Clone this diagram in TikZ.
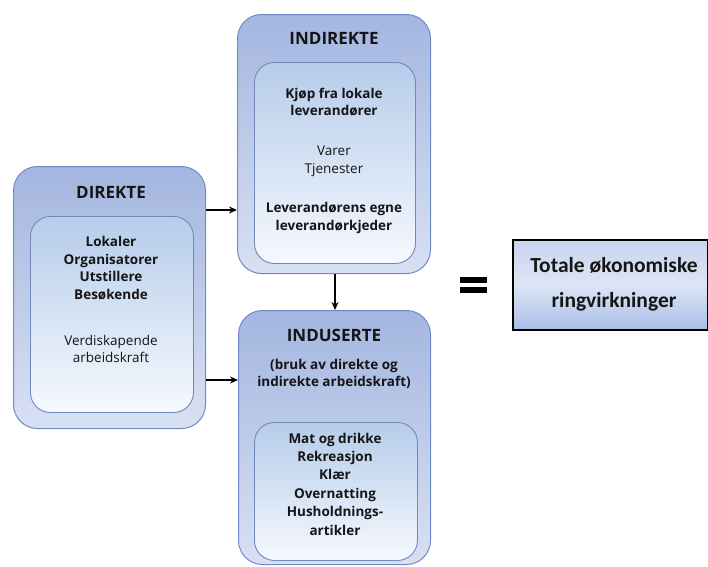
\documentclass[tikz,border=0pt]{standalone}
\usepackage{fontspec}
\setmainfont{Open Sans}
\newfontfamily\calfont{Carlito}
\usetikzlibrary{arrows.meta}
\definecolor{outtop}{HTML}{A4B6E0}
\definecolor{outbot}{HTML}{D8E0F3}
\definecolor{outline}{HTML}{6F8BC6}
\definecolor{intop}{HTML}{B6CCEA}
\definecolor{inbot}{HTML}{F6F9FE}
\definecolor{inline}{HTML}{6F89BA}
\definecolor{txt}{HTML}{151515}
\definecolor{totop}{HTML}{C9D5EE}
\definecolor{tomid}{HTML}{DCE5F5}
\definecolor{tobot}{HTML}{A9BDE6}
\tikzset{
  outerbox/.style={draw=outline, line width=1pt, rounded corners=24pt, top color=outtop, bottom color=outbot, anchor=north west, inner sep=0pt},
  innerbox/.style={draw=inline, line width=0.9pt, rounded corners=20pt, top color=intop, bottom color=inbot, anchor=north west, inner sep=0pt},
  head/.style={font=\bfseries\fontsize{17}{19}\selectfont, text=txt, align=center, inner sep=0pt},
  bodyb/.style={font=\bfseries\fontsize{13.5}{17.6}\selectfont, text=txt, align=center, inner sep=0pt},
  bodyr/.style={font=\fontsize{13.5}{17.6}\selectfont, text=txt, align=center, inner sep=0pt},
  conn/.style={-{Stealth[length=8pt,width=7pt]}, line width=1.5pt, black},
  totalbox/.style={draw=black, line width=1.8pt, anchor=north west, inner sep=0pt,
     top color=totop, bottom color=tobot, middle color=tomid},
  totaltext/.style={font=\calfont\bfseries\fontsize{21.5}{24}\selectfont, text=txt, inner sep=0pt},
}
\begin{document}
\begin{tikzpicture}[x=1pt,y=-1pt]
\path[use as bounding box] (0,0) rectangle (708,566);

% DIREKTE
\node[outerbox, minimum width=192pt, minimum height=262pt] (direkte) at (13,166) {};
\node[innerbox, minimum width=163pt, minimum height=196pt] (direkteIn) at (30,216) {};
\node[head] (dh) at (111,192) {DIREKTE};
\node[bodyb] (dl) at (111,268) {Lokaler\\Organisatorer\\Utstillere\\Besøkende};
\node[bodyr] (dv) at (111,349) {Verdiskapende\\arbeidskraft};

% INDIREKTE
\node[outerbox, minimum width=193pt, minimum height=259pt] (indirekte) at (237,14) {};
\node[innerbox, minimum width=161pt, minimum height=201pt] (indirekteIn) at (254,62) {};
\node[head] (ih) at (334,38) {INDIREKTE};
\node[bodyb] (ik) at (334,102) {Kjøp fra lokale\\leverandører};
\node[bodyr] (iv) at (334,161) {Varer\\Tjenester};
\node[bodyb] (il) at (334,218) {Leverandørens egne\\leverandørkjeder};

% INDUSERTE
\node[outerbox, minimum width=192pt, minimum height=254pt] (induserte) at (238,310) {};
\node[innerbox, minimum width=163pt, minimum height=138pt] (induserteIn) at (254,422) {};
\node[head] (uh) at (334,335) {INDUSERTE};
\node[bodyb] (ub) at (334,374) {(bruk av direkte og\\indirekte arbeidskraft)};
\node[bodyb, font=\bfseries\fontsize{13.5}{18.4}\selectfont] (ul) at (335,484) {Mat og drikke\\Rekreasjon\\Klær\\Overnatting\\Husholdnings-\\artikler};

% connectors
\coordinate (a1) at (0,210);
\coordinate (a2) at (0,380);
\coordinate (a3) at (335,0);
\draw[conn] (direkte.east |- a1) -- (indirekte.west |- a1);
\draw[conn] (direkte.east |- a2) -- (induserte.west |- a2);
\draw[conn] (indirekte.south -| a3) -- (induserte.north -| a3);

% equals sign
\fill[black] (460,277) rectangle (487,283);
\fill[black] (460,287) rectangle (487,293);

% total box
\node[totalbox, minimum width=195pt, minimum height=90pt] (total) at (512,239) {};
\node[totaltext] (t1) at (614,265) {Totale økonomiske};
\node[totaltext] (t2) at (614,302) {ringvirkninger};
\end{tikzpicture}
\end{document}
